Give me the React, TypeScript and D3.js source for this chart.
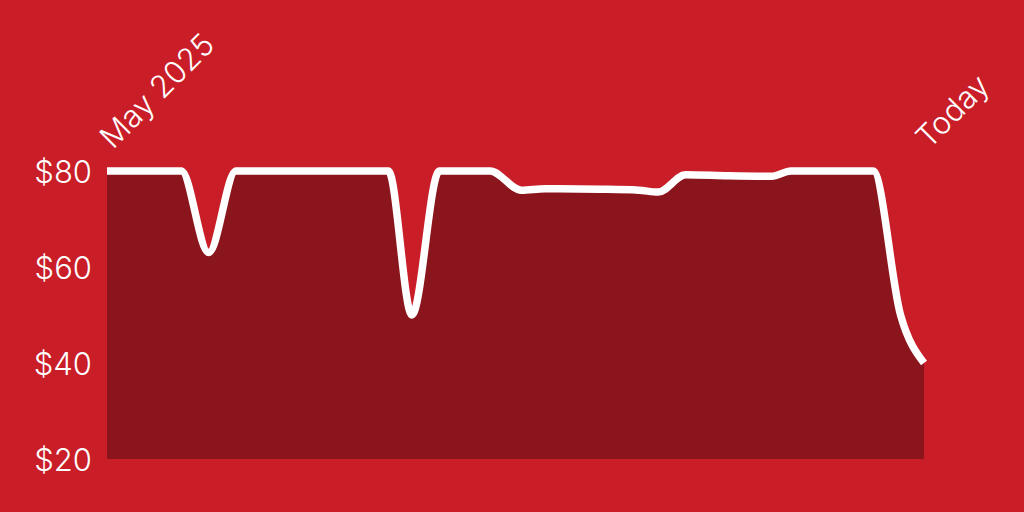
import React from "react";
import * as d3 from "d3";

const dates: string[] = [
  "2025-05-01", "2025-05-20", "2025-05-27", "2025-06-03", "2025-07-12",
  "2025-07-18", "2025-07-25", "2025-08-07", "2025-08-15", "2025-08-21",
  "2025-09-04", "2025-09-14", "2025-09-19", "2025-09-26", "2025-10-07",
  "2025-10-18", "2025-10-23", "2025-11-13", "2025-11-20", "2025-11-26",
];
const prices: number[] = [
  80, 80, 63, 80, 80,
  50, 80, 80, 76, 76.3,
  76.2, 76, 75.6, 79.2, 79,
  78.9, 80, 80, 50, 40,
];
const yTicks: number[] = [20, 40, 60, 80];
const startLabel = "May 2025";
const endLabel = "Today";

const W = 1024;
const H = 512;
const BG = "#c91d28";
const FILL = "#8b151c";
const FONT = "Inter, 'Liberation Sans', sans-serif";

export default function App() {
  const parse = d3.timeParse("%Y-%m-%d");
  const data = dates.map((d, i) => ({ date: parse(d) as Date, value: prices[i] }));
  const x = d3
    .scaleTime()
    .domain(d3.extent(data, (d) => d.date) as [Date, Date])
    .range([107, 924]);
  const y = d3.scaleLinear().domain([20, 80]).range([459, 171]);

  const area = d3
    .area<{ date: Date; value: number }>()
    .x((d) => x(d.date))
    .y0(y(20))
    .y1((d) => y(d.value))
    .curve(d3.curveMonotoneX);
  const line = d3
    .line<{ date: Date; value: number }>()
    .x((d) => x(d.date))
    .y((d) => y(d.value))
    .curve(d3.curveMonotoneX);

  const first = data[0].date;
  const last = data[data.length - 1].date;

  return (
    <svg
      width={W}
      height={H}
      style={{ position: "absolute", left: 0, top: 0, display: "block" }}
    >
      <rect width={W} height={H} fill={BG} />
      <path d={area(data) || ""} fill={FILL} />
      <path
        d={line(data) || ""}
        fill="none"
        stroke="#fff"
        strokeWidth={7.5}
        strokeLinejoin="round"
      />
      {yTicks.map((t) => (
        <text
          key={t}
          x={92}
          y={y(t)}
          textAnchor="end"
          dominantBaseline="central"
          fill="#fff"
          fontFamily={FONT}
          fontWeight={300}
          fontSize={31}
        >
          {"$" + t}
        </text>
      ))}
      <text
        transform={`translate(${x(first) + 6},150) rotate(-45)`}
        fill="#fff"
        fontFamily={FONT}
        fontWeight={300}
        fontSize={31}
      >
        {startLabel}
      </text>
      <text
        transform={`translate(${x(last) + 5},150) rotate(-45)`}
        fill="#fff"
        fontFamily={FONT}
        fontWeight={300}
        fontSize={31}
      >
        {endLabel}
      </text>
    </svg>
  );
}
